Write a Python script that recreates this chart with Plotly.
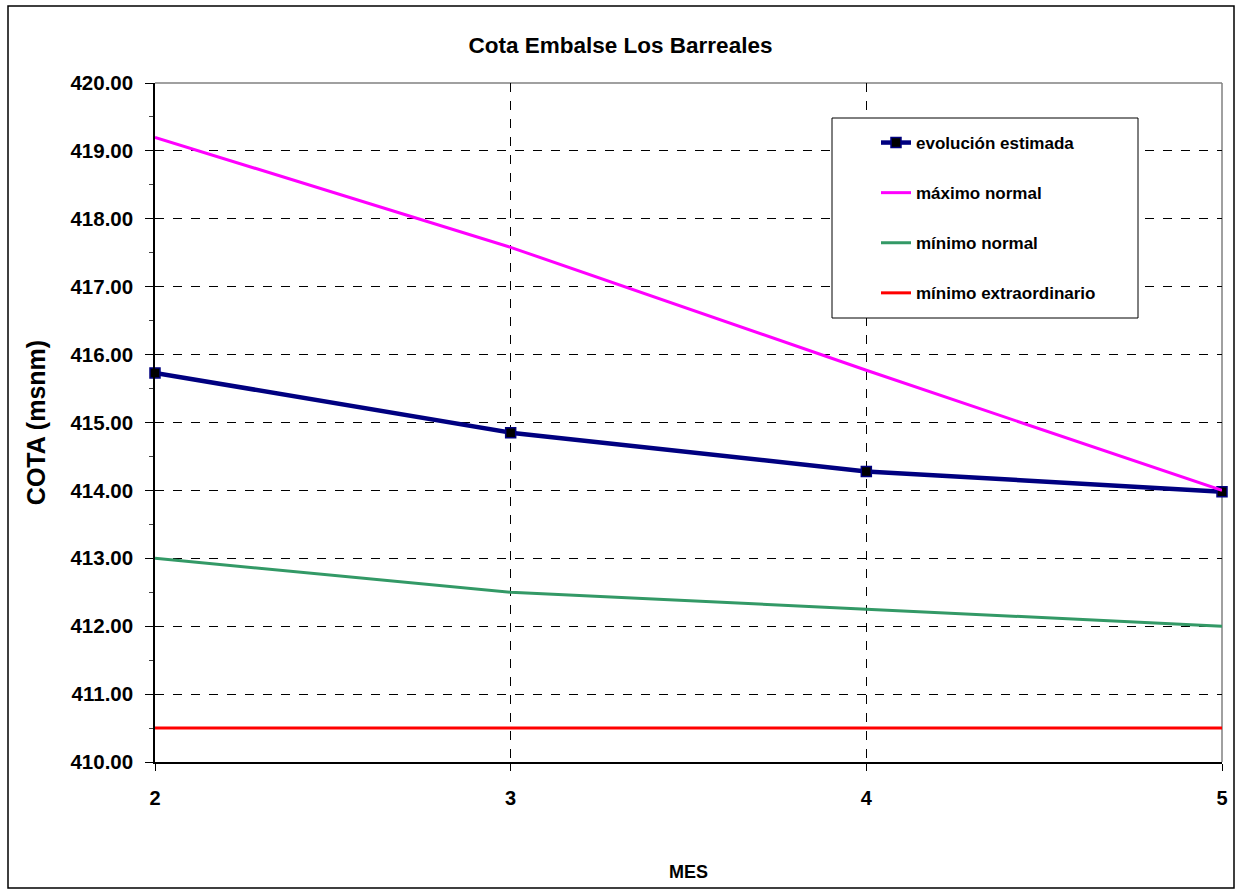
import plotly.graph_objects as go

meses = [2, 3, 4, 5]
evolucion_estimada = [415.73, 414.85, 414.28, 413.98]
maximo_normal = [419.20, 417.58, 415.77, 414.00]
minimo_normal = [413.00, 412.50, 412.25, 412.00]
minimo_extraordinario = [410.50, 410.50, 410.50, 410.50]

W, H = 1241, 895
L, R, T, B = 155, 19, 83, 133
pw, ph = W - L - R, H - T - B

def px_x(p):
    return (p - L) / pw

def px_y(p):
    return (H - B - p) / ph

FONT = "Arial, Liberation Sans, sans-serif"

fig = go.Figure()
series = [
    ("evolución estimada", evolucion_estimada, "#000080", 4.5, True),
    ("máximo normal", maximo_normal, "#FF00FF", 3, False),
    ("mínimo normal", minimo_normal, "#339966", 3, False),
    ("mínimo extraordinario", minimo_extraordinario, "#FF0000", 3, False),
]
for i, (name, vals, col, w, mk) in enumerate(series):
    fig.add_trace(go.Scatter(
        x=meses, y=vals, name=name, legendgroup=f"g{i}",
        mode="lines+markers" if mk else "lines",
        line=dict(color=col, width=w),
        marker=dict(symbol="square", size=10, color="black",
                    line=dict(color="#000080", width=1.5)) if mk else None,
        cliponaxis=False,
    ))

shapes = [
    # outer chart border
    dict(type="rect", xref="paper", yref="paper",
         x0=px_x(8), x1=px_x(1234), y0=px_y(6), y1=px_y(888),
         line=dict(color="black", width=1.5), layer="below"),
    # plot border top / right (gray)
    dict(type="line", xref="paper", yref="paper", x0=0, x1=1, y0=1, y1=1,
         line=dict(color="#808080", width=1.5), layer="below"),
    dict(type="line", xref="paper", yref="paper", x0=1, x1=1, y0=0, y1=1,
         line=dict(color="#808080", width=1.5), layer="below"),
    # legend box
    dict(type="rect", xref="paper", yref="paper",
         x0=px_x(832), x1=px_x(1138), y0=px_y(118), y1=px_y(318),
         fillcolor="white", line=dict(color="black", width=1), layer="above"),
]

fig.update_layout(
    width=W, height=H,
    margin=dict(l=L, r=R, t=T, b=B, pad=0),
    paper_bgcolor="white", plot_bgcolor="white",
    font=dict(family=FONT, color="black"),
    title=dict(text="<b>Cota Embalse Los Barreales</b>", x=0.5, xanchor="center",
               xref="container", y=1 - 45 / H, yanchor="middle",
               font=dict(size=22.5, family=FONT, color="black")),
    shapes=shapes,
    showlegend=True,
    legend=dict(x=px_x(876), y=px_y(125), xanchor="left", yanchor="top",
                bgcolor="rgba(0,0,0,0)", borderwidth=0,
                font=dict(size=17, family=FONT, color="black", weight="bold"),
                tracegroupgap=25, traceorder="grouped", itemwidth=30),
)

fig.update_xaxes(
    range=[2, 5], tickvals=meses, ticktext=[f"<b>{m}</b>" for m in meses],
    tickfont=dict(size=20, family=FONT, color="black"),
    showline=True, linecolor="black", linewidth=1.5,
    ticks="outside", ticklen=7, tickcolor="black", ticklabelstandoff=10,
    showgrid=True, gridcolor="black", griddash="dash", gridwidth=1,
    zeroline=False,
    title=dict(text="<b>MES</b>", font=dict(size=18, family=FONT, color="black"), standoff=58),
)

yvals = list(range(410, 421))
fig.update_yaxes(
    range=[410, 420], tickvals=yvals, ticktext=[f"<b>{v:.2f}</b>" for v in yvals],
    tickfont=dict(size=20.5, family=FONT, color="black"),
    showline=True, linecolor="black", linewidth=1.5,
    ticks="outside", ticklen=8, tickcolor="black", ticklabelstandoff=8,
    minor=dict(ticks="outside", ticklen=4, dtick=0.5, tick0=410, tickcolor="#404040", showgrid=False),
    showgrid=True, gridcolor="black", griddash="dash", gridwidth=1,
    zeroline=False,
    title=dict(text="<b>COTA (msnm)</b>", font=dict(size=25, family=FONT, color="black"), standoff=18),
)

fig.write_html("out.html")
